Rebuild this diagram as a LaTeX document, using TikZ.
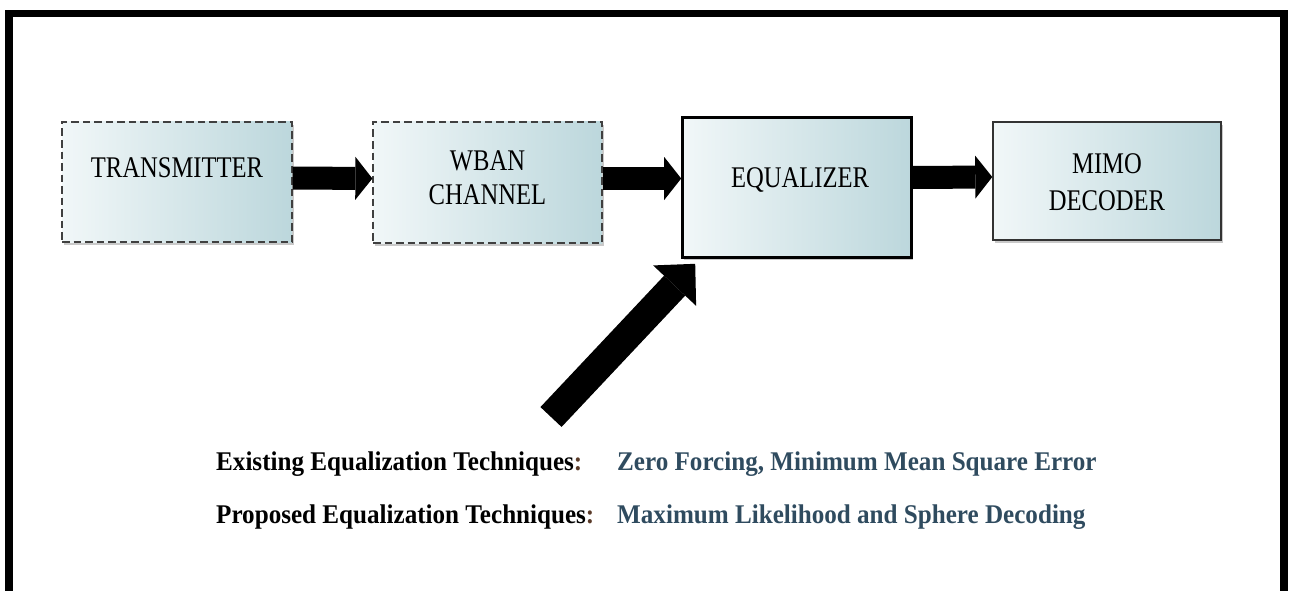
\documentclass[tikz,border=0pt]{standalone}
\usepackage{fontspec}
\setmainfont{Liberation Serif}
\usetikzlibrary{arrows.meta,shadows,calc}

\definecolor{boxL}{HTML}{F1F7F8}
\definecolor{boxR}{HTML}{BCD7DC}
\definecolor{techblue}{HTML}{2F4B5F}
\definecolor{colonbrown}{HTML}{5A3A28}

\newcommand{\narrowtext}[2][0.82]{\scalebox{#1}[1]{#2}}

\tikzset{
  block/.style={shade, left color=boxL, right color=boxR, inner sep=0pt,
    drop shadow={shadow xshift=1.5pt, shadow yshift=-2.5pt, opacity=0.3, fill=black!70}},
  dashblock/.style={block, draw=black!75, line width=1.3pt, dash pattern=on 7.5pt off 4pt},
  mainblock/.style={block, draw=black, line width=2.6pt},
  plainblock/.style={block, draw=black!80, line width=1.5pt},
  boxtext/.style={font=\fontsize{30}{36}\selectfont, align=center, inner sep=0pt},
  flow/.style={line width=23pt, -{Triangle[length=17pt, width=43pt, line width=0pt]}},
  feed/.style={line width=29pt, -{Triangle[length=30pt, width=59pt, line width=0pt]}},
  techlabel/.style={font=\fontsize{27}{32}\selectfont\bfseries, anchor=base west, inner sep=0pt},
}

\begin{document}
\begin{tikzpicture}[x=1pt, y=-1pt]
\useasboundingbox (0,0) rectangle (1289,591);

% outer frame, open at the bottom
\fill[black] (5,10) rectangle (1288,17);
\fill[black] (5,10) rectangle (13,591);
\fill[black] (1280,10) rectangle (1288,591);

% processing chain
\node[dashblock, minimum width=230pt, minimum height=120pt] (tx) at (177,182) {};
\node[dashblock, minimum width=229pt, minimum height=121pt] (wban) at (487.5,182.5) {};
\node[mainblock, minimum width=229pt, minimum height=140pt] (eq) at (797,187.5) {};
\node[plainblock, minimum width=228pt, minimum height=118pt] (mimo) at (1107,181) {};

\node[boxtext] (txlabel) at (177,168) {\narrowtext{TRANSMITTER}};
\node[boxtext] (wbanlabel) at (487.5,180) {\narrowtext{\begin{tabular}{@{}c@{}}WBAN\\[-2pt]CHANNEL\end{tabular}}};
\node[boxtext] (eqlabel) at (800,180) {\narrowtext{EQUALIZER}};
\node[boxtext] (mimolabel) at (1107,185) {\narrowtext{\begin{tabular}{@{}c@{}}MIMO\\[1pt]DECODER\end{tabular}}};

% block arrows between stages
\draw[flow] ($(tx.east)+(0,-4)$) -- ($(wban.west)+(0,-4)$);
\draw[flow] ($(wban.east)+(0,-4)$) -- ($(eq.west)+(0,-9)$);
\draw[flow] ($(eq.east)+(0,-10)$) -- ($(mimo.west)+(0,-4)$);

% feed arrow from the technique list into the equalizer
\coordinate (feedtail) at (551,417);
\draw[feed] (feedtail) -- ($(eq.south west)+(14,5)$);

% technique list
\node[techlabel] (exist) at (216,470) {\narrowtext[0.93]{Existing Equalization Techniques\textcolor{colonbrown}{:}}};
\node[techlabel, text=techblue] (existval) at (617,470) {\narrowtext[0.93]{Zero Forcing, Minimum Mean Square Error}};
\node[techlabel] (prop) at (216,523) {\narrowtext[0.93]{Proposed Equalization Techniques\textcolor{colonbrown}{:}}};
\node[techlabel, text=techblue] (propval) at (617,523) {\narrowtext[0.93]{Maximum Likelihood and Sphere Decoding}};
\end{tikzpicture}
\end{document}
